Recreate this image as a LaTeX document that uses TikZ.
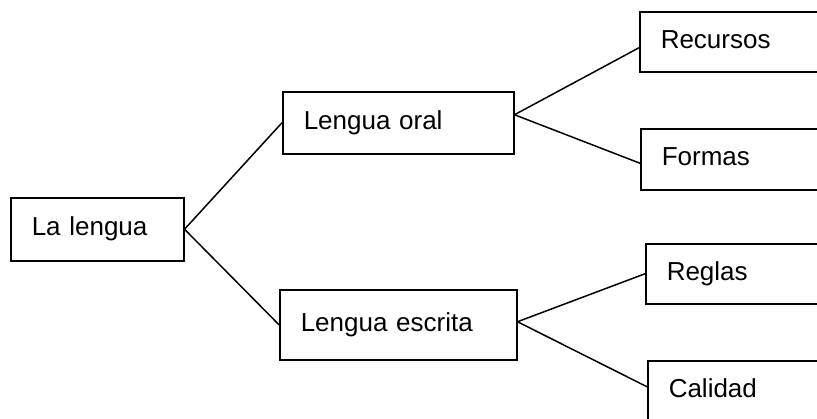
\documentclass[tikz,border=0pt]{standalone}
\usepackage{fontspec}
\setmainfont{Liberation Sans}
\begin{document}
\begin{tikzpicture}[x=1pt, y=-1pt, line width=1.5pt,
    caja/.style={draw, rectangle, anchor=north west, inner xsep=21pt, inner ysep=0pt,
        text height=19pt, text depth=6pt, align=left, font=\fontsize{26}{31}\selectfont}]
\useasboundingbox (0,0) rectangle (817,418);

\node[caja, text width=131pt, minimum height=63pt] (A) at (10,197) {La lengua};
\node[caja, text width=189pt, minimum height=62pt] (B) at (282,91) {Lengua oral};
\node[caja, text width=195pt, minimum height=70pt] (C) at (279,289) {Lengua escrita};

% las cajas de la derecha quedan cortadas por el borde
\node[caja, text width=159pt, minimum height=60pt] (B1) at (639,11) {Recursos};
\node[caja, text width=158pt, minimum height=61pt] (B2) at (640,128) {Formas};
\node[caja, text width=153pt, minimum height=60pt] (C1) at (645,243) {Reglas};
\node[caja, text width=151pt, minimum height=60pt] (C2) at (647,360) {Calidad};

\draw (A.east)--(B.west);
\draw (A.east)--(C.west);

\foreach \x/\y in {B1/-6, B2/-4}
{
    \draw ([yshift=8pt]B.east)--([yshift=\y pt]\x.west);
}
\foreach \x/\y in {C1/0, C2/4}
{
    \draw ([yshift=3pt]C.east)--([yshift=\y pt]\x.west);
}
\end{tikzpicture}
\end{document}
